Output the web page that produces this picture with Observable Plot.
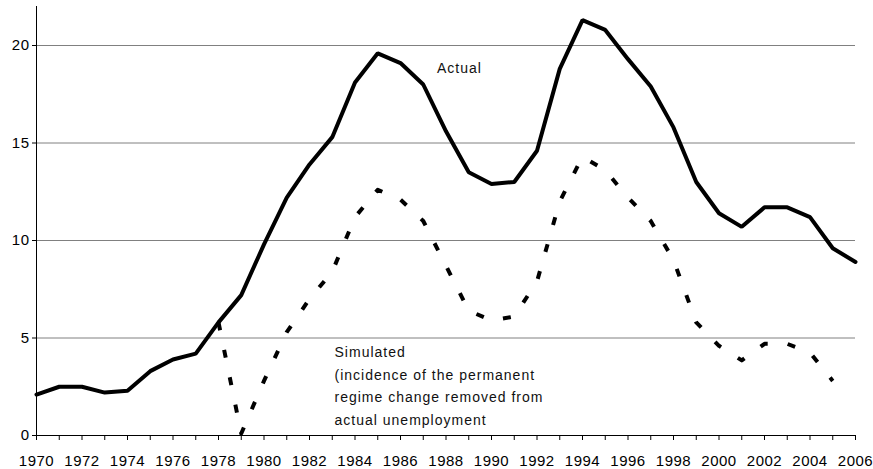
<!DOCTYPE html>
<html>
<head>
<meta charset="utf-8">
<script src="https://cdn.jsdelivr.net/npm/d3@7"></script>
<script src="https://cdn.jsdelivr.net/npm/@observablehq/plot@0.6"></script>
<style>
  html, body { margin: 0; padding: 0; background: #fff; }
  #chart svg { display: block; }
  #chart svg g[aria-label="x-axis tick label"],
  #chart svg g[aria-label="y-axis tick label"] { font-size: 15px !important; letter-spacing: 0.5px; }
</style>
</head>
<body>
<div id="chart"></div>
<script>
const actualYears = d3.range(1970, 2007);
const actualValues = [2.1, 2.5, 2.5, 2.2, 2.3, 3.3, 3.9, 4.2, 5.8, 7.2,
  9.8, 12.2, 13.9, 15.3, 18.1, 19.6, 19.1, 18.0, 15.6, 13.5,
  12.9, 13.0, 14.6, 18.8, 21.3, 20.8, 19.3, 17.9, 15.8, 13.0,
  11.4, 10.7, 11.7, 11.7, 11.2, 9.6, 8.9];
const simulatedYears = d3.range(1978, 2006);
const simulatedValues = [5.8, 0.1, 2.8, 5.3, 7.0, 8.4, 11.2, 12.6, 12.1, 11.0,
  8.7, 6.4, 5.9, 6.1, 7.9, 12.0, 14.3, 13.6, 12.2, 11.0,
  9.0, 5.8, 4.6, 3.85, 4.7, 4.7, 4.25, 2.8];
const yTicks = [0, 5, 10, 15, 20];
const xTicks = d3.range(1970, 2007);
const labelTexts = ["Actual",
  "Simulated\n(incidence of the permanent\nregime change removed from\nactual unemployment"];
const labelYears = [1987.6, 1983.1];
const labelValues = [18.95, 2.65];

const actual = actualYears.map((year, i) => ({year, value: actualValues[i]}));
const simulated = simulatedYears.map((year, i) => ({year, value: simulatedValues[i]}));
const labels = labelTexts.map((text, i) => ({text, year: labelYears[i], value: labelValues[i]}));

const font = "'Liberation Sans', Arial, sans-serif";

const chart = Plot.plot({
  width: 873,
  height: 469,
  marginLeft: 36,
  marginRight: 18,
  marginTop: 6,
  marginBottom: 34,
  style: {fontFamily: font, fontSize: "14px", color: "#000", background: "#fff", letterSpacing: "1px"},
  x: {domain: [1970, 2006]},
  y: {domain: [0, 22]},
  marks: [
    Plot.gridY(yTicks.filter(d => d > 0), {stroke: "#808080", strokeOpacity: 1, strokeWidth: 1}),
    Plot.axisY({ticks: yTicks, tickSize: 4, tickPadding: 3, label: null, stroke: "#000", fill: "#000"}),
    Plot.axisX({ticks: xTicks, tickSize: 5, tickPadding: 15, label: null, stroke: "#000", fill: "#000",
      tickFormat: d => d % 2 === 0 ? String(d) : ""}),
    Plot.ruleX([1970], {stroke: "#000"}),
    Plot.ruleY([0], {stroke: "#000"}),
    Plot.line(actual, {x: "year", y: "value", stroke: "#000", strokeWidth: 4, strokeLinejoin: "miter"}),
    Plot.line(simulated, {x: "year", y: "value", stroke: "#000", strokeWidth: 4, strokeDasharray: "8,20", strokeLinecap: "butt"}),
    Plot.text(labels, {x: "year", y: "value", text: "text", textAnchor: "start", lineAnchor: "middle",
      lineHeight: 1.6, fill: "#111", fontSize: 14})
  ]
});
document.getElementById("chart").appendChild(chart);
</script>
</body>
</html>
